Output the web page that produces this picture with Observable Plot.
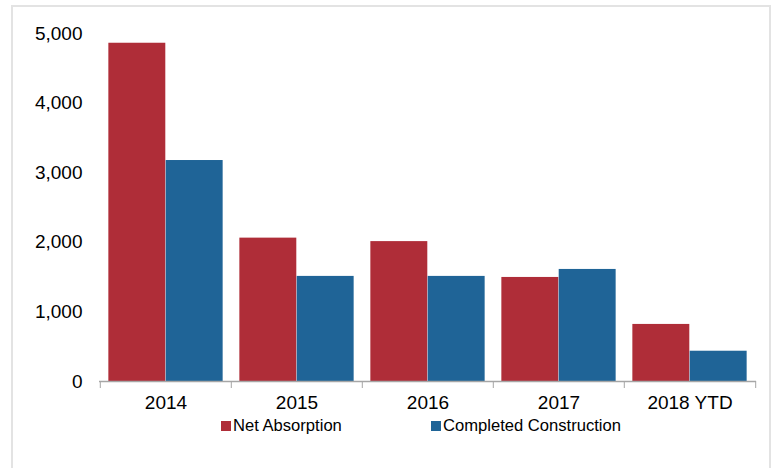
<!DOCTYPE html>
<html>
<head>
<meta charset="utf-8">
<script src="https://cdn.jsdelivr.net/npm/d3@7"></script>
<script src="https://cdn.jsdelivr.net/npm/@observablehq/plot@0.6"></script>
<style>
  html, body { margin: 0; padding: 0; background: #fff; }
  body { width: 777px; height: 468px; position: relative; overflow: hidden; font-family: "Liberation Sans", Arial, sans-serif; }
  #frame { position: absolute; left: 11px; top: 5px; width: 760px; height: 480px; border: 2px solid #e3e3e3; box-sizing: border-box; }
  #chart { position: absolute; left: 0; top: 0; }
  .leg { position: absolute; top: 416px; display: flex; align-items: center; font-size: 16.6px; color: #000; }
  .sw { width: 10px; height: 10px; margin-right: 2px; }
</style>
</head>
<body>
<div id="frame"></div>
<div id="chart"></div>
<div class="leg" id="leg0" style="left:221px"></div>
<div class="leg" id="leg1" style="left:431px"></div>
<script>
const years = ["2014", "2015", "2016", "2017", "2018 YTD"];
const seriesNames = ["Net Absorption", "Completed Construction"];
const netAbsorption = [4860, 2060, 2010, 1495, 820];
const completedConstruction = [3175, 1510, 1510, 1610, 435];
const colors = ["#AF2D38", "#1F6497"];
const yTicks = [0, 1000, 2000, 3000, 4000, 5000];

const rows = [];
years.forEach((y, i) => {
  rows.push({year: y, series: seriesNames[0], value: netAbsorption[i]});
  rows.push({year: y, series: seriesNames[1], value: completedConstruction[i]});
});

const W = 777, H = 420;
const mL = 99, mR = 21, mT = 33, mB = 39;
const band = (W - mL - mR) / years.length;
const outer = 8.35;
const half = band / 2 - outer;

const font = "Liberation Sans, Arial, sans-serif";

const plot = Plot.plot({
  width: W,
  height: H,
  marginLeft: mL,
  marginRight: mR,
  marginTop: mT,
  marginBottom: mB,
  style: {fontFamily: font, fontSize: "19px", color: "#000", background: "transparent"},
  x: {type: "band", domain: years, padding: 0, label: null},
  y: {domain: [0, 5000], label: null},
  marks: [
    Plot.barY(rows.filter(d => d.series === seriesNames[0]), {x: "year", y: "value", fill: colors[0], insetLeft: outer, insetRight: band - outer - half}),
    Plot.barY(rows.filter(d => d.series === seriesNames[1]), {x: "year", y: "value", fill: colors[1], insetLeft: outer + half, insetRight: outer}),
    Plot.axisY({ticks: yTicks, tickSize: 0, tickPadding: 17, tickFormat: d3.format(","), fontSize: "19px", label: null}),
    Plot.axisX({tickSize: 0, tickPadding: 14, fontSize: "19px", label: null}),
    Plot.axisX({tickSize: 7, dx: -band / 2, tickFormat: () => "", stroke: "#a6a6a6", label: null}),
    Plot.axisX({ticks: [years[years.length - 1]], tickSize: 7, dx: band / 2, tickFormat: () => "", stroke: "#a6a6a6", label: null}),
    Plot.ruleY([0], {stroke: "#a6a6a6", strokeWidth: 1.3})
  ]
});
document.getElementById("chart").appendChild(plot);

seriesNames.forEach((name, i) => {
  const el = document.getElementById("leg" + i);
  const sw = document.createElement("span");
  sw.className = "sw";
  sw.style.background = colors[i];
  const t = document.createElement("span");
  t.textContent = name;
  el.appendChild(sw);
  el.appendChild(t);
});
</script>
</body>
</html>
